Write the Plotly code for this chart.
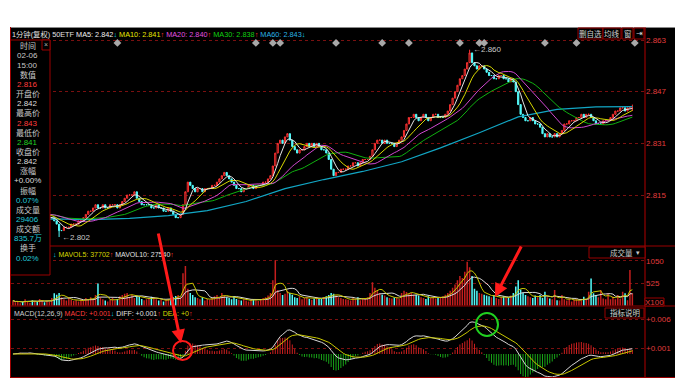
import plotly.graph_objects as go
import pandas as pd

W, H = 683, 392


def px(x):
    return x / W


def py(y):
    return 1 - y / H


# ---------------- data ----------------
close = [
    2.809, 2.809, 2.810, 2.810, 2.809, 2.809, 2.810, 2.810, 2.809, 2.809, 2.808, 2.809, 2.809, 2.808, 2.808, 2.808,
    2.808, 2.807, 2.806, 2.804, 2.804, 2.805, 2.805, 2.805, 2.806, 2.806,
    2.806, 2.807, 2.807, 2.808, 2.809, 2.810, 2.810, 2.811, 2.812, 2.811,
    2.811, 2.812, 2.811, 2.811, 2.812, 2.812, 2.812, 2.811, 2.812, 2.813,
    2.814, 2.815, 2.815, 2.815, 2.816, 2.814, 2.813, 2.812, 2.812, 2.812,
    2.812, 2.811, 2.811, 2.812, 2.811, 2.811, 2.810, 2.810, 2.811, 2.810,
    2.809, 2.808, 2.808, 2.809, 2.812, 2.816, 2.819, 2.818, 2.817, 2.816,
    2.817, 2.817, 2.816, 2.817, 2.817, 2.817, 2.818, 2.818, 2.819, 2.820,
    2.821, 2.822, 2.821, 2.820, 2.819, 2.818, 2.817, 2.817, 2.816, 2.817,
    2.817, 2.818, 2.818, 2.817, 2.818, 2.818, 2.818, 2.819, 2.819, 2.820,
    2.821, 2.824, 2.828, 2.831, 2.832, 2.831, 2.833, 2.834, 2.832, 2.830,
    2.829, 2.828, 2.829, 2.829, 2.830, 2.831, 2.830, 2.831, 2.830, 2.831,
    2.830, 2.829, 2.829, 2.828, 2.826, 2.823, 2.821, 2.822, 2.822, 2.823,
    2.823, 2.823, 2.824, 2.824, 2.825, 2.825, 2.824, 2.825, 2.826, 2.826,
    2.826, 2.827, 2.829, 2.831, 2.832, 2.832, 2.831, 2.832, 2.831, 2.831,
    2.831, 2.830, 2.831, 2.832, 2.833, 2.835, 2.837, 2.839, 2.839, 2.840,
    2.839, 2.838, 2.839, 2.840, 2.839, 2.838, 2.839, 2.840, 2.840, 2.839,
    2.839, 2.839, 2.840, 2.841, 2.843, 2.845, 2.847, 2.849, 2.851, 2.852,
    2.854, 2.856, 2.859, 2.856, 2.855, 2.854, 2.855, 2.855, 2.854, 2.853,
    2.852, 2.852, 2.851, 2.851, 2.852, 2.852, 2.851, 2.851, 2.850, 2.851,
    2.850, 2.847, 2.843, 2.840, 2.839, 2.838, 2.838, 2.839, 2.838, 2.837,
    2.837, 2.836, 2.834, 2.833, 2.834, 2.833, 2.833, 2.834, 2.833, 2.834,
    2.835, 2.837, 2.837, 2.838, 2.838, 2.838, 2.839, 2.839, 2.840, 2.839,
    2.840, 2.840, 2.839, 2.838, 2.837, 2.837, 2.837, 2.838, 2.838, 2.838,
    2.839, 2.840, 2.841, 2.841, 2.842, 2.842, 2.841, 2.842, 2.842, 2.842,
]
open_ = [
    2.809, 2.809, 2.809, 2.810, 2.810, 2.809, 2.809, 2.810, 2.810, 2.809, 2.809, 2.808, 2.809, 2.809, 2.808, 2.808,
    2.808, 2.808, 2.807, 2.806, 2.804, 2.804, 2.805, 2.805, 2.805, 2.806,
    2.806, 2.806, 2.807, 2.807, 2.808, 2.809, 2.810, 2.810, 2.811, 2.812,
    2.811, 2.811, 2.812, 2.811, 2.811, 2.812, 2.812, 2.812, 2.811, 2.812,
    2.813, 2.814, 2.815, 2.815, 2.815, 2.816, 2.814, 2.813, 2.812, 2.812,
    2.812, 2.812, 2.811, 2.811, 2.812, 2.811, 2.811, 2.810, 2.810, 2.811,
    2.810, 2.809, 2.808, 2.808, 2.809, 2.812, 2.816, 2.819, 2.818, 2.817,
    2.816, 2.817, 2.817, 2.816, 2.817, 2.817, 2.817, 2.818, 2.818, 2.819,
    2.820, 2.821, 2.822, 2.821, 2.820, 2.819, 2.818, 2.817, 2.817, 2.816,
    2.817, 2.817, 2.818, 2.818, 2.817, 2.818, 2.818, 2.818, 2.819, 2.819,
    2.820, 2.821, 2.824, 2.828, 2.831, 2.832, 2.831, 2.833, 2.834, 2.832,
    2.830, 2.829, 2.828, 2.829, 2.829, 2.830, 2.831, 2.830, 2.831, 2.830,
    2.831, 2.830, 2.829, 2.829, 2.828, 2.826, 2.823, 2.821, 2.822, 2.822,
    2.823, 2.823, 2.823, 2.824, 2.824, 2.825, 2.825, 2.824, 2.825, 2.826,
    2.826, 2.826, 2.827, 2.829, 2.831, 2.832, 2.832, 2.831, 2.832, 2.831,
    2.831, 2.831, 2.830, 2.831, 2.832, 2.833, 2.835, 2.837, 2.839, 2.839,
    2.840, 2.839, 2.838, 2.839, 2.840, 2.839, 2.838, 2.839, 2.840, 2.840,
    2.839, 2.839, 2.839, 2.840, 2.841, 2.843, 2.845, 2.847, 2.849, 2.851,
    2.852, 2.854, 2.856, 2.859, 2.856, 2.855, 2.854, 2.855, 2.855, 2.854,
    2.853, 2.852, 2.852, 2.851, 2.851, 2.852, 2.852, 2.851, 2.851, 2.850,
    2.851, 2.850, 2.847, 2.843, 2.840, 2.839, 2.838, 2.838, 2.839, 2.838,
    2.837, 2.837, 2.836, 2.834, 2.833, 2.834, 2.833, 2.833, 2.834, 2.833,
    2.834, 2.835, 2.837, 2.837, 2.838, 2.838, 2.838, 2.839, 2.839, 2.840,
    2.839, 2.840, 2.840, 2.839, 2.838, 2.837, 2.837, 2.837, 2.838, 2.838,
    2.838, 2.839, 2.840, 2.841, 2.841, 2.842, 2.842, 2.841, 2.842, 2.842,
]
# visible wicks (candle index -> extreme price)
high_marks = {188: 2.860, 255: 2.843}
low_marks = {19: 2.802, 255: 2.841}

# volume, in units of 100
volume = [
    120, 80, 100, 60, 90, 150, 110, 70, 130, 90, 100, 160, 120, 80, 110, 90,
    180, 290, 260, 300, 200, 150, 120, 180, 140, 110,
    130, 100, 150, 120, 180, 140, 200, 160, 250, 520,
    200, 150, 120, 100, 140, 180, 130, 160, 220, 250,
    280, 300, 200, 260, 180, 240, 220, 160, 130, 150,
    180, 210, 200, 150, 120, 140, 100, 130, 160, 180,
    200, 230, 250, 200, 760, 930, 400, 300, 250, 200,
    180, 150, 200, 120, 160, 140, 180, 220, 250, 200,
    300, 240, 200, 180, 150, 230, 160, 140, 120, 150,
    120, 100, 140, 160, 130, 110, 150, 180, 200, 240,
    300, 600, 1070, 370, 300, 250, 280, 350, 300, 260,
    200, 180, 220, 150, 180, 200, 160, 140, 170, 200,
    180, 160, 200, 220, 250, 300, 280, 240, 200, 180,
    160, 150, 140, 120, 180, 150, 200, 130, 170, 160,
    200, 300, 550, 420, 350, 300, 260, 240, 200, 180,
    170, 190, 200, 160, 300, 350, 320, 280, 300, 260,
    250, 240, 200, 180, 160, 220, 180, 200, 170, 190,
    200, 220, 260, 300, 350, 420, 500, 600, 700, 650,
    800, 1030, 900, 700, 400, 350, 300, 280, 260, 240,
    220, 200, 250, 180, 160, 200, 220, 180, 200, 240,
    300, 450, 600, 380, 300, 250, 220, 200, 180, 240,
    200, 250, 180, 330, 200, 170, 150, 370, 130, 120,
    250, 150, 120, 170, 100, 140, 160, 130, 120, 210,
    150, 330, 640, 290, 250, 200, 370, 170, 150, 290,
    150, 210, 150, 250, 160, 330, 290, 130, 840, 290,
]

# MA60 line as drawn by the software (read at every 16th candle)
ma60_idx = [0, 16, 32, 48, 64, 80, 96, 112, 128, 144, 160, 176, 192, 208, 224, 240, 255]
ma60_val = [2.8075, 2.8076, 2.8074, 2.8078, 2.8086, 2.8102, 2.8130, 2.8170, 2.8198,
            2.8223, 2.8253, 2.8296, 2.8343, 2.8392, 2.8415, 2.8423, 2.8424]

# news / event diamonds along the top (candle index)
event_idx = [43, 100, 107, 110, 133, 152, 163, 184, 192, 194, 219, 232, 256]
event_level = 2.8621

price_ticks = [2.815, 2.831, 2.847, 2.863]
price_tick_text = ["2.815", "2.831", "2.847", "2.863"]
vol_ticks = [525, 1050]
vol_tick_text = ["525", "1050"]
macd_ticks = [0.001, 0.006]
macd_tick_text = ["+0.001", "+0.006"]

info_rows = [
    ("时间", "label"), ("02-06", "label"), ("15:00", "label"), ("数值", "label"),
    ("2.816", "up"), ("开盘价", "label"), ("2.842", "value"), ("最高价", "label"),
    ("2.843", "up"), ("最低价", "label"), ("2.841", "down"), ("收盘价", "label"),
    ("2.842", "value"), ("涨幅", "label"), ("+0.00%", "value"), ("振幅", "label"),
    ("0.07%", "cyan"), ("成交量", "label"), ("29406", "cyan"), ("成交额", "label"),
    ("835.7万", "cyan"), ("换手", "label"), ("0.02%", "cyan"),
]

# ---------------- derived series ----------------
n = len(close)
idx = list(range(n))
high = [max(o, c) for o, c in zip(open_, close)]
low = [min(o, c) for o, c in zip(open_, close)]
for k, v in high_marks.items():
    high[k] = v
for k, v in low_marks.items():
    low[k] = v

s = pd.Series(close)
ma = {p: s.rolling(p, min_periods=1).mean() for p in (5, 10, 20, 30)}
ema12 = s.ewm(span=12, adjust=False).mean()
ema26 = s.ewm(span=26, adjust=False).mean()
diff = ema12 - ema26
dea = diff.ewm(span=9, adjust=False).mean()
macd = 2 * (diff - dea)
vs = pd.Series(volume)
mavol5 = vs.rolling(5, min_periods=1).mean()
mavol10 = vs.rolling(10, min_periods=1).mean()

RED = "#ff3232"
CYAN = "#54fcfc"
UPVOL = "#c41e1e"
GRID = "#7a1010"
BORDER = "#9a0000"
FONT = "Liberation Sans, Noto Sans CJK SC, sans-serif"

fig = go.Figure()

fig.add_trace(go.Candlestick(
    x=idx, open=open_, high=high, low=low, close=close,
    increasing=dict(line=dict(color=RED, width=1), fillcolor="#000000"),
    decreasing=dict(line=dict(color=CYAN, width=1), fillcolor=CYAN),
    whiskerwidth=0, xaxis="x", yaxis="y", showlegend=False, hoverinfo="skip"))

fig.add_trace(go.Scatter(x=ma60_idx, y=ma60_val, mode="lines",
                         line=dict(color="#12a6c4", width=1.2), xaxis="x", yaxis="y",
                         showlegend=False, hoverinfo="skip"))
ma_colors = {30: "#10b010", 20: "#d048d0", 10: "#d8d800", 5: "#e6e6e6"}
for p in (30, 20, 10, 5):
    fig.add_trace(go.Scatter(x=idx, y=ma[p], mode="lines",
                             line=dict(color=ma_colors[p], width=1), xaxis="x", yaxis="y",
                             showlegend=False, hoverinfo="skip"))

fig.add_trace(go.Scatter(x=event_idx, y=[event_level] * len(event_idx), mode="markers",
                         marker=dict(symbol="diamond", size=6, color="#a8a8a8"),
                         xaxis="x", yaxis="y", showlegend=False, hoverinfo="skip", cliponaxis=False))

vol_colors = [UPVOL if c >= o else CYAN for o, c in zip(open_, close)]
fig.add_trace(go.Bar(x=idx, y=volume, marker=dict(color=vol_colors, line=dict(width=0)),
                     width=0.62, xaxis="x2", yaxis="y2", showlegend=False, hoverinfo="skip"))
fig.add_trace(go.Scatter(x=idx, y=mavol10, mode="lines", line=dict(color="#dcdcdc", width=1),
                         xaxis="x2", yaxis="y2", showlegend=False, hoverinfo="skip"))
fig.add_trace(go.Scatter(x=idx, y=mavol5, mode="lines", line=dict(color="#c8c800", width=1),
                         xaxis="x2", yaxis="y2", showlegend=False, hoverinfo="skip"))

macd_colors = ["#d02020" if v >= 0 else "#18a818" for v in macd]
fig.add_trace(go.Bar(x=idx, y=macd, marker=dict(color=macd_colors, line=dict(width=0)),
                     width=0.4, xaxis="x3", yaxis="y3", showlegend=False, hoverinfo="skip"))
fig.add_trace(go.Scatter(x=idx, y=diff, mode="lines", line=dict(color="#d8d8d8", width=1),
                         xaxis="x3", yaxis="y3", showlegend=False, hoverinfo="skip"))
fig.add_trace(go.Scatter(x=idx, y=dea, mode="lines", line=dict(color="#c8c800", width=1),
                         xaxis="x3", yaxis="y3", showlegend=False, hoverinfo="skip"))

# ---------------- axes ----------------
xdom = [px(11), px(645)]
xr = [-0.8, 260.2]
xcommon = dict(domain=xdom, range=xr, visible=False, showgrid=False, zeroline=False, fixedrange=True)
ycommon = dict(side="right", showgrid=True, gridcolor=GRID, griddash="dot", gridwidth=1,
               zeroline=False, showline=False, ticks="", fixedrange=True,
               tickfont=dict(color="#e03c3c", size=8, family=FONT))

p_top = 2.863 + 7 / 3230
p_bot = 2.863 - 206 / 3230

fig.update_layout(
    width=W, height=H,
    margin=dict(l=0, r=0, t=0, b=0),
    paper_bgcolor="#ffffff", plot_bgcolor="rgba(0,0,0,0)",
    barmode="overlay", hovermode=False,
    xaxis=dict(anchor="y", rangeslider=dict(visible=False), **xcommon),
    xaxis2=dict(anchor="y2", **xcommon),
    xaxis3=dict(anchor="y3", **xcommon),
    yaxis=dict(anchor="x", domain=[py(246), py(33)], range=[p_bot, p_top],
               tickvals=price_ticks, ticktext=price_tick_text, **ycommon),
    yaxis2=dict(anchor="x2", domain=[py(305.7), py(250)], range=[0, 1308],
                tickvals=vol_ticks, ticktext=vol_tick_text, **ycommon),
    yaxis3=dict(anchor="x3", domain=[py(378), py(316)], range=[-0.00414, 0.00655],
                tickvals=macd_ticks, ticktext=macd_tick_text, **ycommon),
)

# ---------------- shapes ----------------
shapes = []


def rect(x0, y0, x1, y1, fill="#000000", line=BORDER, width=1, layer="above"):
    shapes.append(dict(type="rect", xref="paper", yref="paper",
                       x0=px(x0), x1=px(x1), y0=py(y1), y1=py(y0),
                       fillcolor=fill, line=dict(color=line, width=width), layer=layer))


def hline(y, x0, x1, color=BORDER, width=1, layer="above"):
    shapes.append(dict(type="line", xref="paper", yref="paper", x0=px(x0), x1=px(x1),
                       y0=py(y), y1=py(y), line=dict(color=color, width=width), layer=layer))


def vline(x, y0, y1, color=BORDER, width=1, layer="above"):
    shapes.append(dict(type="line", xref="paper", yref="paper", x0=px(x), x1=px(x),
                       y0=py(y0), y1=py(y1), line=dict(color=color, width=width), layer=layer))


rect(10, 27, 675, 378, fill="#000000", line="#000000", width=0, layer="below")
hline(27.5, 10, 675, color="#8a8a8a")
vline(10.5, 27, 378)
vline(645, 27, 378, color="#b00000")
hline(246, 10, 675)
hline(306, 10, 675)
hline(377.5, 10, 675)
# info panel
rect(10.5, 40, 50, 275)
rect(42, 40, 50, 50)
# top-right buttons
rect(578, 28, 603, 39)
rect(603, 28, 621, 39)
rect(622, 28, 633, 39)
rect(634, 28, 644, 39)
# panel boxes
rect(589, 247, 645, 258)
rect(605, 308, 644, 318)
rect(645, 298, 664, 306)
# hand-drawn marks
shapes.append(dict(type="circle", xref="paper", yref="paper", x0=px(173), x1=px(192),
                   y0=py(360), y1=py(341), line=dict(color="#ff1a1a", width=2), layer="above"))
shapes.append(dict(type="circle", xref="paper", yref="paper", x0=px(476), x1=px(498),
                   y0=py(336), y1=py(313), line=dict(color="#20d020", width=2), layer="above"))
fig.update_layout(shapes=shapes)

# ---------------- text ----------------
anns = []


def text(x, y, t, color="#d0d0d0", size=8, xanchor="left", yanchor="middle"):
    anns.append(dict(xref="paper", yref="paper", x=px(x), y=py(y), text=t, showarrow=False,
                     xanchor=xanchor, yanchor=yanchor,
                     font=dict(color=color, size=size, family=FONT)))


def sp(t, c):
    return f'<span style="color:{c}">{t}</span>'


UPA = sp("↑", "#ff3030")
DNA = sp("↓", "#00d8e8")
legend = (sp("1分钟(复权) 50ETF ", "#e0e0e0") + sp("MA5: 2.842", "#f0f0f0") + DNA + " "
          + sp("MA10: 2.841", "#e6e600") + UPA + " " + sp("MA20: 2.840", "#e050e0") + UPA + " "
          + sp("MA30: 2.838", "#10d010") + UPA + " " + sp("MA60: 2.843", "#2ab4e6") + DNA)
text(10, 34, legend, size=7.3)

info_colors = {"label": "#c8c8c8", "value": "#dcdcdc", "up": "#ff3c3c", "down": "#20d020",
               "cyan": "#20c8d8"}
for k, (t, kind) in enumerate(info_rows):
    text(27.5, 46 + 9.64 * k, t, color=info_colors[kind], size=8, xanchor="center")
text(46, 45, "×", color="#b0b0b0", size=7, xanchor="center")

for (x0, x1, t) in [(578, 603, "删自选"), (603, 621, "均线"), (622, 633, "窗"), (634, 644, "⇥")]:
    text((x0 + x1) / 2, 33.5, t, color="#d0d0d0", size=7.5, xanchor="center")

text(51, 254, DNA + " " + sp("MAVOL5: 37702", "#d8d800") + UPA + " "
     + sp("MAVOL10: 27540", "#e0e0e0") + UPA, size=7)
text(608, 252.5, "成交量", color="#c8c8c8", size=7.5)
text(638, 252.5, "▾", color="#c8c8c8", size=7, xanchor="center")
text(654.5, 302, "X100", color="#e03c3c", size=8, xanchor="center")

text(12, 314, sp("MACD(12,26,9) ", "#d0d0d0") + sp("MACD: +0.001", "#ff3c3c") + DNA + " "
     + sp("DIFF: +0.001", "#e0e0e0") + UPA + " " + sp("DEA: +0", "#d8d800") + UPA, size=7)
text(624.5, 313, "指标说明", color="#d0d0d0", size=7.5, xanchor="center")

# extreme price labels
anns.append(dict(xref="x", yref="y", x=188, y=2.860, text="←2.860", showarrow=False,
                 xanchor="left", yanchor="middle", xshift=1,
                 font=dict(color="#c8c8c8", size=8, family=FONT)))
anns.append(dict(xref="x", yref="y", x=19, y=2.802, text="←2.802", showarrow=False,
                 xanchor="left", yanchor="middle", xshift=1,
                 font=dict(color="#c8c8c8", size=8, family=FONT)))

# hand-drawn red arrows
for (hx, hy, tx, ty) in [(181, 343, 158, 232), (495, 297, 522, 245)]:
    anns.append(dict(xref="paper", yref="paper", x=px(hx), y=py(hy), text="",
                     showarrow=True, ax=tx - hx, ay=ty - hy, axref="pixel", ayref="pixel",
                     arrowhead=2, arrowsize=0.9, arrowwidth=3, arrowcolor="#ff1a1a", standoff=0))

fig.update_layout(annotations=anns)

fig.write_html("out.html", config={"displayModeBar": False, "staticPlot": True},
               post_script="document.body.style.margin='0';document.body.style.overflow='hidden';")
